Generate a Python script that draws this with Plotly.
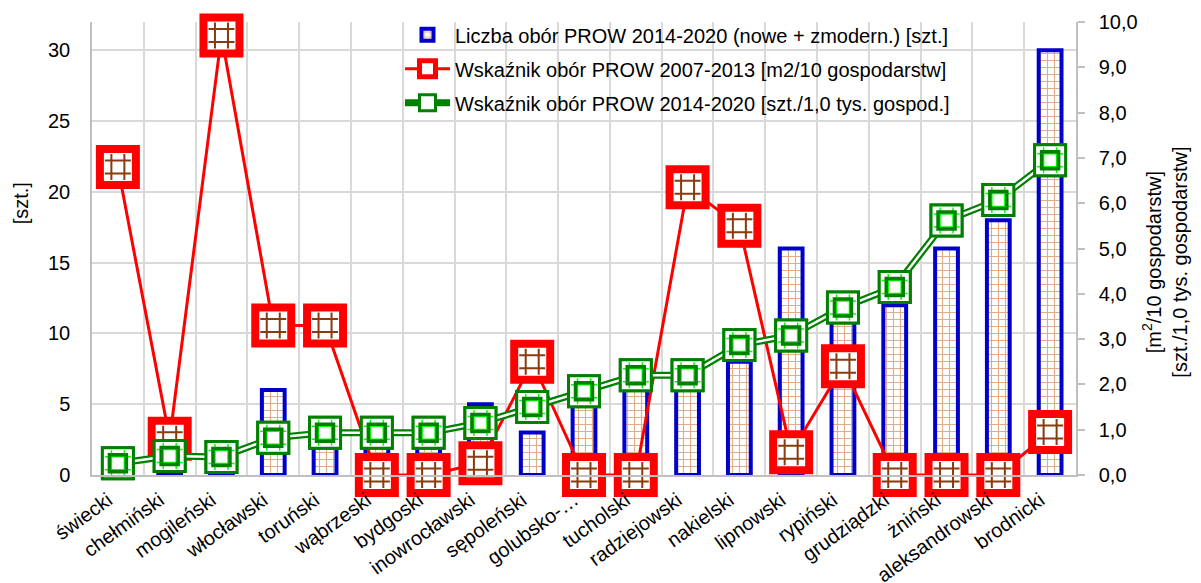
import plotly.graph_objects as go

categories = ["świecki", "chełmiński", "mogileński", "włocławski", "toruński", "wąbrzeski",
              "bydgoski", "inowrocławski", "sępoleński", "golubsko-…", "tucholski",
              "radziejowski", "nakielski", "lipnowski", "rypiński", "grudziądzki",
              "żniński", "aleksandrowski", "brodnicki"]
bars_szt = [1, 1, 1, 6, 4, 2, 3, 5, 3, 6, 6, 7, 8, 16, 11, 12, 16, 18, 30]
red_2007_2013 = [6.8, 0.8, 9.7, 3.3, 3.3, 0, 0, 0.26, 2.5, 0, 0, 6.35, 5.5, 0.5, 2.4, 0, 0, 0, 0.95]
green_2014_2020 = [0.26, 0.42, 0.40, 0.82, 0.93, 0.93, 0.93, 1.15, 1.5, 1.85, 2.2, 2.2, 2.87,
                   3.08, 3.7, 4.15, 5.62, 6.07, 6.95]

name_bar = "Liczba obór PROW 2014-2020 (nowe + zmodern.) [szt.]"
name_red = "Wskaźnik obór PROW 2007-2013 [m2/10 gospodarstw]"
name_green = "Wskaźnik obór PROW 2014-2020 [szt./1,0 tys. gospod.]"

FONT = "Liberation Sans, Arial, sans-serif"
RED = "#FF0000"
DKGREEN = "#008000"
LIME = "#00FF00"
BLUE = "#0000CC"
BRICK = "#C55A11"
BRICK_DK = "#8B3A0E"
GRID = "#D9D9D9"
FS = 20

fig = go.Figure()

fig.add_trace(go.Bar(
    x=categories, y=bars_szt, name=name_bar, yaxis="y", width=0.44,
    legendgroup="a",
    marker=dict(color="white", line=dict(color=BLUE, width=4),
                pattern=dict(shape="+", fgcolor=BRICK, bgcolor="white", size=7, solidity=0.3)),
))

fig.add_trace(go.Scatter(
    x=categories, y=red_2007_2013, name=name_red, yaxis="y2", mode="lines+markers",
    legendgroup="b", cliponaxis=False,
    line=dict(color=RED, width=3),
    marker=dict(symbol="square", size=36, color="white", line=dict(color=RED, width=8)),
))
fig.add_trace(go.Scatter(
    x=categories, y=red_2007_2013, yaxis="y2", mode="markers", showlegend=False,
    cliponaxis=False, hoverinfo="skip",
    marker=dict(symbol="hash-open", size=26, color=BRICK_DK, line=dict(color=BRICK_DK, width=2)),
))

fig.add_trace(go.Scatter(
    x=categories, y=green_2014_2020, name=name_green, yaxis="y2", mode="lines+markers",
    legendgroup="c", cliponaxis=False,
    line=dict(color=DKGREEN, width=7),
    marker=dict(symbol="square", size=31, color="white", line=dict(color=DKGREEN, width=3)),
))
fig.add_trace(go.Scatter(
    x=categories, y=green_2014_2020, yaxis="y2", mode="lines", showlegend=False,
    cliponaxis=False, hoverinfo="skip", line=dict(color="white", width=2.5),
))
fig.add_trace(go.Scatter(
    x=categories, y=green_2014_2020, yaxis="y2", mode="markers", showlegend=False,
    cliponaxis=False, hoverinfo="skip",
    marker=dict(symbol="square", size=31, color="white", line=dict(color=DKGREEN, width=3)),
))
fig.add_trace(go.Scatter(
    x=categories, y=green_2014_2020, yaxis="y2", mode="markers", showlegend=False,
    cliponaxis=False, hoverinfo="skip",
    marker=dict(symbol="hash-open", size=26, color=LIME, line=dict(color=LIME, width=1.5)),
))
fig.add_trace(go.Scatter(
    x=categories, y=green_2014_2020, yaxis="y2", mode="markers", showlegend=False,
    cliponaxis=False, hoverinfo="skip",
    marker=dict(symbol="square-open", size=17, color=DKGREEN, line=dict(color=DKGREEN, width=3.5)),
))

# the page body has an 8px default margin, so the figure is 8px smaller and offset
fig.update_layout(
    width=1193, height=575,
    margin=dict(l=84, r=125, t=14, b=108, autoexpand=False),
    paper_bgcolor="white", plot_bgcolor="white",
    font=dict(family=FONT, size=FS, color="black"),
    separators=", ",
    showlegend=True,
    legend=dict(x=0.313, y=1.015, xanchor="left", yanchor="top", bgcolor="rgba(0,0,0,0)",
                font=dict(size=FS), traceorder="grouped", tracegroupgap=5, itemwidth=45),
    xaxis=dict(type="category", tickson="boundaries", showgrid=True, gridcolor=GRID, gridwidth=1.5,
               showline=True, linecolor="#BFBFBF", linewidth=1.5, ticks="", tickangle=-36,
               ticklabelshift=-10, ticklabelstandoff=4,
               tickfont=dict(size=FS), range=[-0.5, 18.5], automargin=False),
    yaxis=dict(range=[0, 32], dtick=5, tick0=0, showgrid=True, gridcolor=GRID, gridwidth=1.5,
               showline=True, linecolor="#BFBFBF", linewidth=1.5, ticks="",
               ticklabelstandoff=16, zeroline=False, tickfont=dict(size=FS), automargin=False),
    yaxis2=dict(range=[0, 10], dtick=1, tick0=0, overlaying="y", side="right", showgrid=False,
                showline=True, linecolor="#BFBFBF", linewidth=1.5, ticks="outside", ticklen=7,
                tickcolor="#BFBFBF", tickwidth=1.5, tickformat=".1f", ticklabelstandoff=10,
                zeroline=False, tickfont=dict(size=FS), automargin=False),
    annotations=[
        dict(text="[szt.]", xref="paper", yref="paper", x=-0.072, y=0.6, textangle=-90,
             showarrow=False, font=dict(size=FS), xanchor="center", yanchor="middle"),
        dict(text="[m<sup>2</sup>/10 gospodarstw]<br>[szt./1,0 tys. gospodarstw]", xref="paper",
             yref="paper", x=1.09, y=0.47, textangle=-90, showarrow=False,
             font=dict(size=FS), xanchor="center", yanchor="middle"),
    ],
)

fig.write_html("out.html")
